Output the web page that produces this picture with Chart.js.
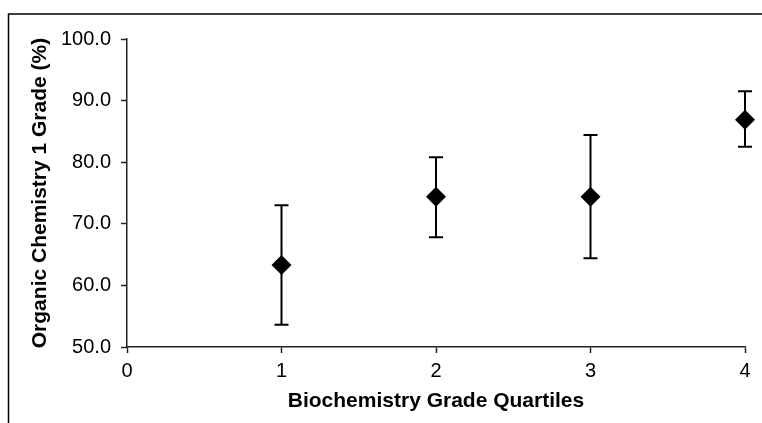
<!DOCTYPE html>
<html>
<head>
<meta charset="utf-8">
<script src="https://cdn.jsdelivr.net/npm/chart.js@4/dist/chart.umd.min.js"></script>
<style>
  html, body { margin: 0; padding: 0; background: #fff; }
  #wrap { position: relative; width: 762px; height: 423px; }
</style>
</head>
<body>
<div id="wrap"><canvas id="c" width="762" height="423"></canvas></div>
<script>
const quartiles = [1, 2, 3, 4];
const means = [63.3, 74.4, 74.4, 86.9];
const lowErr = [53.6, 67.8, 64.4, 82.5];
const highErr = [73.0, 80.8, 84.4, 91.5];
const xTicks = [0, 1, 2, 3, 4];
const yTicks = [50, 60, 70, 80, 90, 100];
const xTitle = 'Biochemistry Grade Quartiles';
const yTitle = 'Organic Chemistry 1 Grade (%)';

const points = quartiles.map((q, i) => ({ x: q, y: means[i] }));

const framePlugin = {
  id: 'frame',
  beforeDraw(chart) {
    const ctx = chart.ctx;
    ctx.save();
    ctx.fillStyle = '#fff';
    ctx.fillRect(0, 0, chart.width, chart.height);
    ctx.strokeStyle = '#000';
    ctx.lineWidth = 1.5;
    ctx.beginPath();
    ctx.moveTo(8.5, chart.height);
    ctx.lineTo(8.5, 14);
    ctx.lineTo(chart.width, 14);
    ctx.stroke();
    ctx.restore();
  }
};

const errorBarPlugin = {
  id: 'errorBars',
  beforeDatasetsDraw(chart) {
    const ctx = chart.ctx;
    const xs = chart.scales.x, ys = chart.scales.y;
    ctx.save();
    ctx.strokeStyle = '#000';
    ctx.lineWidth = 2;
    quartiles.forEach((q, i) => {
      const px = xs.getPixelForValue(q);
      const top = ys.getPixelForValue(highErr[i]);
      const bot = ys.getPixelForValue(lowErr[i]);
      ctx.beginPath();
      ctx.moveTo(px, top); ctx.lineTo(px, bot);
      ctx.moveTo(px - 7, top); ctx.lineTo(px + 7, top);
      ctx.moveTo(px - 7, bot); ctx.lineTo(px + 7, bot);
      ctx.stroke();
    });
    ctx.restore();
  }
};

new Chart(document.getElementById('c'), {
  type: 'scatter',
  data: {
    datasets: [{
      data: points,
      clip: false,
      pointStyle: 'rectRot',
      pointRadius: 10,
      pointHoverRadius: 10,
      backgroundColor: '#000',
      borderColor: '#000',
      borderWidth: 0
    }]
  },
  options: {
    responsive: false,
    animation: false,
    events: [],
    layout: { padding: { top: 39, right: 17, left: 0, bottom: 0 } },
    plugins: { legend: { display: false }, tooltip: { enabled: false } },
    scales: {
      x: {
        type: 'linear',
        min: 0, max: 4,
        afterBuildTicks(s) { s.ticks = xTicks.map(v => ({ value: v })); },
        afterFit(s) { s.height = 76; },
        ticks: {
          color: '#000',
          padding: 6,
          font: { family: 'Liberation Sans', size: 20 },
          callback: v => String(v)
        },
        grid: { display: true, drawOnChartArea: false, tickLength: 6, tickColor: '#222', tickWidth: 1.5 },
        border: { display: true, color: '#222', width: 1.5 },
        title: {
          display: true, text: xTitle, color: '#000',
          font: { family: 'Liberation Sans', size: 21, weight: 'bold' },
          padding: { top: 0, bottom: 9 }
        }
      },
      y: {
        type: 'linear',
        min: 50, max: 100,
        afterBuildTicks(s) { s.ticks = yTicks.map(v => ({ value: v })); },
        afterFit(s) { s.width = 127; },
        ticks: {
          color: '#000',
          padding: 10,
          font: { family: 'Liberation Sans', size: 20 },
          callback: v => Number(v).toFixed(1)
        },
        grid: { display: true, drawOnChartArea: false, tickLength: 6, tickColor: '#222', tickWidth: 1.5 },
        border: { display: true, color: '#222', width: 1.5 },
        title: {
          display: true, text: yTitle, color: '#000',
          font: { family: 'Liberation Sans', size: 21, weight: 'bold' },
          padding: { top: 28, bottom: 0 }
        }
      }
    }
  },
  plugins: [framePlugin, errorBarPlugin]
});
</script>
</body>
</html>
